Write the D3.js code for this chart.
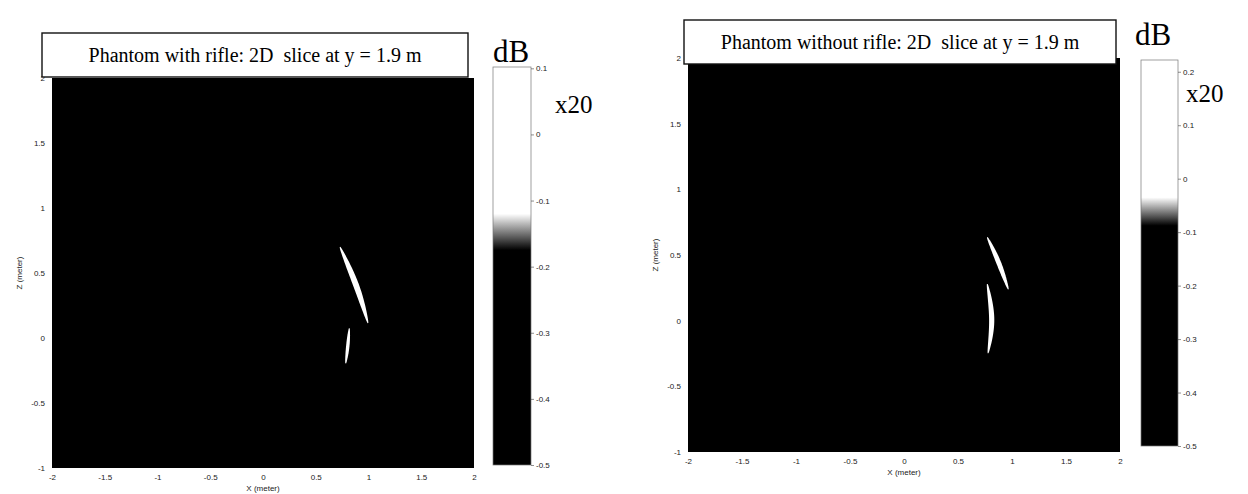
<!DOCTYPE html>
<html>
<head>
<meta charset="utf-8">
<script src="https://cdn.jsdelivr.net/npm/d3@7"></script>
<style>
  body { margin: 0; background: #fff; }
  svg { display: block; }
</style>
</head>
<body>
<svg id="chart" width="1248" height="494"></svg>
<script>
// axis ticks (meters)
const xTicks = [-2, -1.5, -1, -0.5, 0, 0.5, 1, 1.5, 2];
const zTicks = [2, 1.5, 1, 0.5, 0, -0.5, -1];

// colorbar ticks (dB, x20)
const cbTicksRifle = [0.1, 0, -0.1, -0.2, -0.3, -0.4, -0.5];
const cbTicksNoRifle = [0.2, 0.1, 0, -0.1, -0.2, -0.3, -0.4, -0.5];

// colorbar value ranges [top, bottom] and white->black transition [start, end]
const cbRangeRifle = [0.102, -0.5];
const cbRangeNoRifle = [0.222, -0.5];
const cbFadeRifle = [-0.12, -0.175];
const cbFadeNoRifle = [-0.035, -0.088];

// bright reflections, centre lines as [x, z] in meters
const rifleArcs = [
  [[0.73, 0.70], [0.885, 0.40], [0.995, 0.115]],
  [[0.818, 0.075], [0.803, -0.067], [0.784, -0.195]]
];
const noRifleArcs = [
  [[0.771, 0.635], [0.87, 0.455], [0.966, 0.239]],
  [[0.771, 0.279], [0.812, 0.01], [0.778, -0.248]]
];

const titles = [
  "Phantom with rifle: 2D\u00a0 slice at y = 1.9 m",
  "Phantom without rifle: 2D\u00a0 slice at y = 1.9 m"
];

const panels = [
  {
    id: "rifle", title: titles[0], arcs: rifleArcs, arcW: [5, 2.6],
    plot: { x0: 52, x1: 474, y0: 78, y1: 468 },
    box: { x: 42, y: 33, w: 426, h: 44 },
    cb: { x: 493, w: 38, y0: 67, y1: 465, ticks: cbTicksRifle, range: cbRangeRifle, fade: cbFadeRifle },
    dB: { x: 493, y: 62 }, x20: { x: 555, y: 113 }
  },
  {
    id: "norifle", title: titles[1], arcs: noRifleArcs, arcW: [4, 4.4],
    plot: { x0: 688, x1: 1120, y0: 58, y1: 452 },
    box: { x: 684, y: 20, w: 432, h: 44 },
    cb: { x: 1141, w: 37, y0: 60, y1: 446, ticks: cbTicksNoRifle, range: cbRangeNoRifle, fade: cbFadeNoRifle },
    dB: { x: 1135, y: 45 }, x20: { x: 1186, y: 102 }
  }
];

const svg = d3.select("#chart");
const defs = svg.append("defs");
const tickFont = "'Liberation Sans', Arial, sans-serif";
const serif = "'Liberation Serif', 'Times New Roman', serif";
const fmt = d => String(d);

panels.forEach(p => {
  const g = svg.append("g");

  const x = d3.scaleLinear().domain([-2, 2]).range([p.plot.x0, p.plot.x1]);
  const y = d3.scaleLinear().domain([2, -1]).range([p.plot.y0, p.plot.y1]);

  // black image background
  g.append("rect")
    .attr("x", x(-2)).attr("y", y(2))
    .attr("width", x(2) - x(-2)).attr("height", y(-1) - y(2))
    .attr("fill", "#000");

  // bright arcs
  p.arcs.forEach((pts, i) => drawArc(g, pts, p.arcW[i], x, y));

  // x axis
  const xAxis = g.append("g")
    .attr("transform", `translate(0,${y(-1)})`)
    .call(d3.axisBottom(x).tickValues(xTicks).tickFormat(fmt).tickSize(0).tickPadding(6));
  xAxis.select(".domain").remove();
  xAxis.selectAll("text")
    .style("font-family", tickFont).style("font-size", "8px").attr("fill", "#222");

  g.append("text")
    .attr("x", x(0)).attr("y", y(-1) + 23)
    .attr("text-anchor", "middle")
    .style("font-family", tickFont).style("font-size", "8px").attr("fill", "#222")
    .text("X (meter)");

  // z axis
  const yAxis = g.append("g")
    .attr("transform", `translate(${x(-2)},0)`)
    .call(d3.axisLeft(y).tickValues(zTicks).tickFormat(fmt).tickSize(0).tickPadding(7));
  yAxis.select(".domain").remove();
  yAxis.selectAll("text")
    .style("font-family", tickFont).style("font-size", "8px").attr("fill", "#222");

  g.append("text")
    .attr("transform", `translate(${x(-2) - 30},${y(0.5)}) rotate(-90)`)
    .attr("text-anchor", "middle")
    .style("font-family", tickFont).style("font-size", "8px").attr("fill", "#222")
    .text("Z (meter)");

  // title box
  g.append("rect")
    .attr("x", p.box.x).attr("y", p.box.y)
    .attr("width", p.box.w).attr("height", p.box.h)
    .attr("fill", "#fff").attr("stroke", "#111").attr("stroke-width", 1.4);
  g.append("text")
    .attr("x", p.box.x + p.box.w / 2).attr("y", p.box.y + p.box.h / 2 + 7)
    .attr("text-anchor", "middle")
    .style("font-family", serif).style("font-size", "20px").attr("fill", "#000")
    .text(p.title);

  // colorbar
  const c = p.cb;
  const cy = d3.scaleLinear().domain(c.range).range([c.y0, c.y1]);
  const color = d3.scaleLinear().domain(c.fade).range(["#ffffff", "#000000"]).clamp(true);
  const grad = defs.append("linearGradient")
    .attr("id", "cb-" + p.id)
    .attr("x1", 0).attr("y1", 0).attr("x2", 0).attr("y2", 1);
  const stopVals = [c.range[0], ...d3.range(c.fade[0], c.fade[1], -0.005), c.fade[1], c.range[1]];
  grad.selectAll("stop")
    .data(stopVals)
    .join("stop")
    .attr("offset", d => (cy(d) - c.y0) / (c.y1 - c.y0))
    .attr("stop-color", d => color(d));
  g.append("rect")
    .attr("x", c.x).attr("y", c.y0)
    .attr("width", c.w).attr("height", c.y1 - c.y0)
    .attr("fill", `url(#cb-${p.id})`)
    .attr("stroke", "#777").attr("stroke-width", 0.7);

  const cAxis = g.append("g")
    .attr("transform", `translate(${c.x + c.w},0)`)
    .call(d3.axisRight(cy).tickValues(c.ticks).tickFormat(fmt).tickSize(3).tickPadding(2));
  cAxis.select(".domain").remove();
  cAxis.selectAll("line").attr("stroke", "#444").attr("stroke-width", 0.6);
  cAxis.selectAll("text")
    .style("font-family", tickFont).style("font-size", "8px").attr("fill", "#222");

  g.append("text")
    .attr("x", p.dB.x).attr("y", p.dB.y)
    .style("font-family", serif).style("font-size", "31px").attr("fill", "#000")
    .text("dB");
  g.append("text")
    .attr("x", p.x20.x).attr("y", p.x20.y)
    .style("font-family", serif).style("font-size", "25px").attr("fill", "#000")
    .text("x20");
});

// tapered white crescent along a smoothed centre line
function drawArc(g, pts, maxW, x, y) {
  const guide = g.append("path")
    .attr("d", d3.line().x(d => x(d[0])).y(d => y(d[1])).curve(d3.curveNatural)(pts))
    .attr("fill", "none");
  const node = guide.node();
  const L = node.getTotalLength();
  const n = 40;
  const left = [], right = [];
  for (let i = 0; i <= n; i++) {
    const t = i / n;
    const a = node.getPointAtLength(Math.max(0, t * L - 0.5));
    const b = node.getPointAtLength(Math.min(L, t * L + 0.5));
    const m = node.getPointAtLength(t * L);
    let dx = b.x - a.x, dy = b.y - a.y;
    const len = Math.hypot(dx, dy) || 1;
    dx /= len; dy /= len;
    const w = 0.4 + (maxW / 2) * Math.pow(Math.sin(Math.PI * t), 0.7);
    left.push([m.x - dy * w, m.y + dx * w]);
    right.push([m.x + dy * w, m.y - dx * w]);
  }
  guide.remove();
  g.append("path")
    .attr("d", d3.line()(left.concat(right.reverse())) + "Z")
    .attr("fill", "#fff");
}
</script>
</body>
</html>
